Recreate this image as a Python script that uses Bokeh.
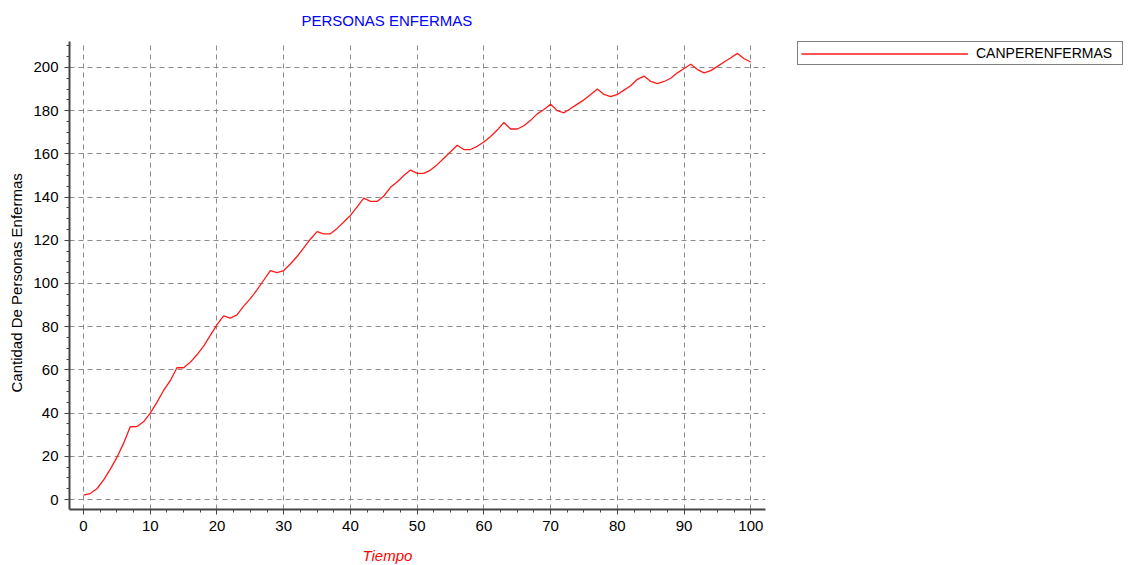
from bokeh.plotting import figure
from bokeh.models import (Range1d, SingleIntervalTicker, Legend, LegendItem, Title)
from bokeh.embed import file_html
from bokeh.resources import INLINE

# Daily count of sick people over time
tiempo = list(range(0, 101))
canperenfermas = [
    2, 2.8, 5, 9, 14, 19.5, 26, 33.7, 33.8, 36,
    40, 45, 50.5, 55, 61, 61, 63.5, 67, 71, 76,
    81, 85, 84, 85.5, 89.5, 93, 97, 101.5, 106, 105,
    106, 109, 112.5, 116.5, 120.5, 124, 123, 123, 125.5, 128.5,
    131.5, 135.5, 139.5, 138, 138, 140.5, 144.5, 147, 150, 152.5,
    151, 151, 152.5, 155, 158, 161, 164, 162, 162, 163.5,
    165.5, 168, 171, 174.5, 171.5, 171.5, 173, 175.5, 178.5, 180.5,
    183, 180, 179, 181, 183, 185, 187.5, 190, 187.5, 186.5,
    187.5, 189.5, 191.5, 194.5, 196, 193.5, 192.5, 193.5, 195, 197.5,
    199.5, 201.5, 199, 197.5, 198.5, 200.5, 202.5, 204.5, 206.5, 204,
    202.5,
]

titulo = "PERSONAS ENFERMAS"
etiqueta_x = "Tiempo"
etiqueta_y = "Cantidad De Personas Enfermas"
serie = "CANPERENFERMAS"

FONT = "Liberation Sans"

p = figure(frame_width=696, frame_height=468, output_backend="svg", toolbar_location=None,
           x_range=Range1d(-2.1, 102.2), y_range=Range1d(-4.6, 212))
p.min_border_left = 69
p.min_border_right = 0
p.min_border_top = 0
p.min_border_bottom = 0
p.outline_line_color = None
p.background_fill_color = "white"
p.border_fill_color = "white"

p.title.text = titulo
p.title.align = "left"
p.title.vertical_align = "top"
p.title.offset = 232
p.title.text_font = FONT
p.title.text_font_size = "15px"
p.title.text_font_style = "normal"
p.title.text_color = "#0000ff"
p.title.standoff = 22

p.xaxis.ticker = SingleIntervalTicker(interval=10, num_minor_ticks=4)
p.yaxis.ticker = SingleIntervalTicker(interval=20, num_minor_ticks=4)

for ax in (p.xaxis, p.yaxis):
    ax.axis_line_color = "#444444"
    ax.axis_line_width = 2
    ax.major_tick_line_color = "#444444"
    ax.minor_tick_line_color = "#444444"
    ax.major_tick_in = 0
    ax.major_tick_out = 5
    ax.minor_tick_in = 0
    ax.minor_tick_out = 3
    ax.major_label_text_font = FONT
    ax.major_label_text_font_size = "15px"
    ax.major_label_text_color = "black"
p.xaxis.major_label_standoff = 6
p.yaxis.major_label_standoff = 6

# Axis titles as side titles so they can be shifted along the frame
y_label = Title(text=etiqueta_y, align="left", offset=117, vertical_align="bottom",
                text_font=FONT, text_font_size="15px", text_font_style="normal",
                text_color="black", standoff=11)
p.add_layout(y_label, "left")

x_label = Title(text=etiqueta_x, align="left", offset=293, text_font=FONT,
                text_font_size="15px", text_font_style="italic", text_color="#ff0000",
                standoff=22)
p.add_layout(x_label, "below")

for g in (p.xgrid, p.ygrid):
    g.grid_line_color = "#8c8c8c"
    g.grid_line_dash = "5 4"
    g.grid_line_width = 1

r = p.line(tiempo, canperenfermas, line_color="#ff1a1a", line_width=1.3)

legend = Legend(items=[LegendItem(label=serie, renderers=[r])],
                location=(32, 444), orientation="vertical",
                glyph_width=167, glyph_height=15, label_height=15, label_width=143,
                label_standoff=8, padding=3, margin=0, spacing=0,
                border_line_color="black", border_line_width=1,
                background_fill_color="white", background_fill_alpha=1,
                label_text_font=FONT, label_text_font_size="14px",
                label_text_color="black")
p.add_layout(legend, "right")

open("out.html", "w").write(file_html(p, INLINE))
